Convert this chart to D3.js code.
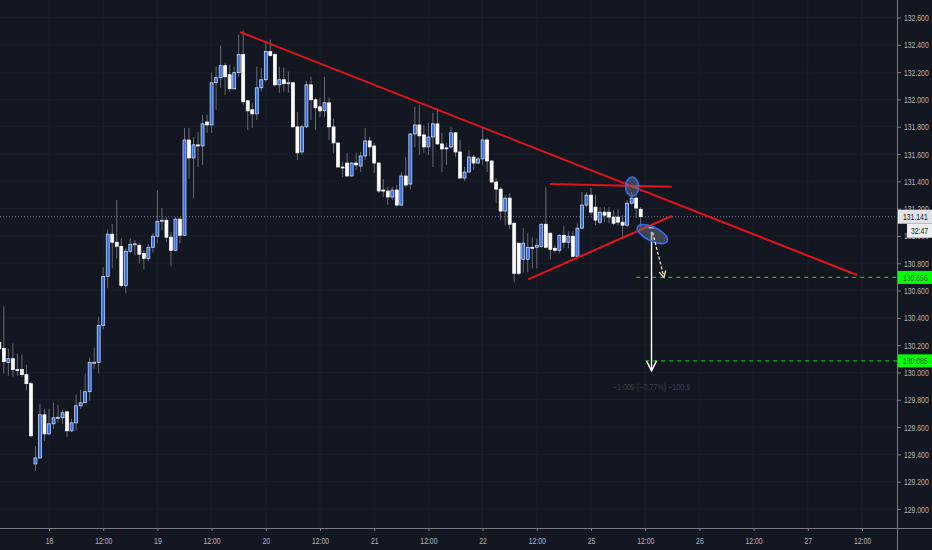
<!DOCTYPE html>
<head>
  <meta charset="utf-8">
  <style>
    body { margin: 0; background: #131722; }
    svg { background-color: #131722; display: block; }
    .axis text {
      font-family: "Liberation Sans", Arial, sans-serif;
      font-size: 9.5px;
      fill: #b2b5be;
    }
    .axis line { stroke: #787b86; }
    .tag { font-family: "Liberation Sans", Arial, sans-serif; font-size: 9.5px; }
  </style>
</head>
<body>
  <svg></svg>
  <script src="https://d3js.org/d3.v7.min.js"></script>
  <script>
  // hourly candles, first one is 11 bars before "18"
  const firstIndex = -11;
  const opens = [130.221,130.175,130.072,130.101,130.021,130.021,129.984,129.918,129.330,129.374,129.690,
    129.550,129.624,129.668,129.668,129.712,129.572,129.631,129.756,129.778,129.859,130.072,130.072,
    130.344,130.704,131.013,130.954,130.924,130.638,130.888,130.939,130.932,130.873,130.836,130.917,
    130.998,131.108,131.115,130.991,130.895,131.123,131.005,131.703,131.571,131.667,131.659,131.835,
    131.813,132.122,132.159,132.247,132.181,132.078,132.196,132.328,131.990,131.924,131.894,132.085,
    132.144,132.350,132.328,132.107,132.144,132.115,132.122,131.799,131.615,131.799,132.107,131.997,
    131.946,131.916,131.975,131.799,131.681,131.505,131.534,131.439,131.534,131.512,131.586,131.696,
    131.659,131.534,131.336,131.329,131.285,131.336,131.226,131.439,131.380,131.747,131.813,131.740,
    131.652,131.725,131.821,131.674,131.645,131.652,131.755,131.615,131.424,131.468,131.578,131.534,
    131.564,131.703,131.549,131.395,131.343,131.182,131.277,131.093,130.947,130.829,130.829,130.917,
    130.917,130.924,131.086,131.020,130.910,130.895,131.005,130.954,130.998,130.851,131.057,131.226,
    131.299,131.211,131.101,131.174,131.174,131.138,131.138,131.101,131.079,131.240,131.277,131.196];
  const highs = [130.322,130.484,130.175,130.212,130.138,130.131,130.057,129.932,129.462,129.771,129.734,
    129.734,129.778,129.763,129.727,129.720,129.661,129.837,129.874,129.991,130.109,130.182,130.410,
    130.770,131.049,131.086,131.262,130.983,130.910,130.983,130.968,130.946,130.895,130.939,131.020,
    131.336,131.204,131.137,131.027,131.137,131.137,131.791,131.791,131.725,131.762,131.887,131.887,
    132.196,132.240,132.394,132.269,132.254,132.240,132.475,132.504,131.997,131.975,132.240,132.232,
    132.431,132.438,132.343,132.240,132.232,132.203,132.129,131.909,131.813,132.137,132.166,132.012,
    132.012,132.166,132.012,131.858,131.688,131.542,131.608,131.542,131.608,131.615,131.791,131.725,
    131.681,131.542,131.417,131.358,131.358,131.373,131.468,131.578,131.755,131.946,131.960,131.813,
    131.828,131.902,131.931,131.755,131.681,131.799,131.762,131.703,131.505,131.630,131.593,131.578,
    131.791,131.718,131.556,131.424,131.358,131.299,131.314,131.100,130.954,131.057,131.020,130.990,
    130.983,131.093,131.358,131.027,130.932,131.013,131.071,131.035,131.035,131.093,131.321,131.321,
    131.351,131.299,131.211,131.211,131.211,131.189,131.196,131.152,131.262,131.321,131.299,131.211];
  const lows = [129.976,129.991,129.976,129.969,129.976,129.969,129.874,129.528,129.278,129.367,129.499,
    129.543,129.587,129.631,129.624,129.528,129.565,129.572,129.734,129.778,129.793,130.028,129.991,
    130.315,130.616,130.763,130.836,130.623,130.579,130.873,130.858,130.800,130.755,130.814,130.880,
    130.946,131.042,130.954,130.777,130.888,130.946,130.998,131.417,131.277,131.505,131.520,131.755,
    131.755,131.924,132.085,132.034,132.056,132.071,132.166,131.960,131.777,131.791,131.850,132.056,
    132.129,132.313,132.093,132.049,132.056,132.049,131.791,131.556,131.593,131.791,131.850,131.777,
    131.872,131.872,131.703,131.608,131.498,131.432,131.432,131.432,131.483,131.468,131.556,131.586,
    131.461,131.314,131.285,131.226,131.262,131.211,131.218,131.358,131.343,131.652,131.593,131.608,
    131.593,131.505,131.667,131.468,131.520,131.637,131.578,131.420,131.402,131.461,131.483,131.527,
    131.520,131.468,131.387,131.240,131.116,131.079,131.049,130.660,130.711,130.733,130.733,130.763,
    130.763,130.910,130.910,130.829,130.880,130.873,130.910,130.910,130.844,130.844,131.049,131.211,
    131.152,131.079,131.086,131.101,131.093,131.079,131.079,130.983,131.064,131.226,131.130,131.064];
  const closes = [130.173,130.079,130.101,130.021,130.018,129.984,129.918,129.536,129.374,129.690,129.550,
    129.624,129.668,129.672,129.705,129.572,129.631,129.756,129.778,129.859,130.072,130.075,130.344,
    130.704,131.013,130.954,130.924,130.638,130.888,130.939,130.942,130.866,130.836,130.917,130.998,
    131.108,131.115,130.991,130.895,131.123,131.005,131.703,131.571,131.667,131.659,131.821,131.813,
    132.122,132.159,132.247,132.166,132.078,132.196,132.328,131.983,131.916,131.894,132.085,132.144,
    132.350,132.321,132.107,132.144,132.115,132.122,131.799,131.608,131.799,132.107,131.997,131.938,
    131.916,131.975,131.799,131.681,131.505,131.498,131.439,131.534,131.520,131.586,131.696,131.652,
    131.534,131.329,131.329,131.285,131.336,131.226,131.439,131.373,131.747,131.813,131.733,131.652,
    131.725,131.821,131.674,131.637,131.641,131.755,131.615,131.424,131.468,131.578,131.534,131.564,
    131.703,131.549,131.395,131.343,131.182,131.277,131.086,130.726,130.726,130.947,130.917,130.913,
    130.932,131.086,130.917,130.902,130.895,131.005,130.954,130.998,130.851,131.057,131.226,131.299,
    131.174,131.116,131.174,131.152,131.138,131.093,131.101,131.079,131.240,131.277,131.204,131.141];

  const timeLabels = ["18","12:00","19","12:00","20","12:00","21","12:00","22","12:00","25","12:00","26","12:00","27","12:00"];
  const timeStep = 12;
  const priceTicks = [132.6,132.4,132.2,132.0,131.8,131.6,131.4,131.2,131.0,130.8,130.6,130.4,130.2,130.0,129.8,129.6,129.4,129.2,129.0];
  const lastPrice = 131.141;
  const countdown = "32:47";
  const targets = [{price: 130.696, from: 130}, {price: 130.085, from: 132}];

  // drawings, points as [bar index, price]
  const trendLines = [
    [[42.3, 132.494], [178.9, 130.714]],
    [[110.9, 131.380], [137.9, 131.361]],
    [[106.1, 130.682], [137.9, 131.146]]
  ];
  const markers = [
    {i: 129.1, p: 131.361, rx: 6.5, ry: 9.5, rot: 0},
    {i: 133.6, p: 131.014, rx: 16.5, ry: 7, rot: 26}
  ];
  const measure = {i: 133.4, from: 131.03, to: 130.085, label: "\u22121.009 (\u22120.77%) \u2212100.9"};
  const projection = [[133.65, 131.026], [136.15, 130.697]];

  const width = 932, height = 550;
  const plotRight = 897, plotBottom = 528;
  const tickIdx = timeLabels.map((t, k) => k * timeStep);

  const svg = d3.select('svg').attr('width', width).attr('height', height);

  const x = d3.scaleLinear().domain([0, 180]).range([49, 862]);
  const y = d3.scaleLinear().domain([129, 132.6]).range([509, 17.5]);

  // squeeze text horizontally, the chart font is a narrow one
  function condense(sel, f) {
    sel.each(function() {
      const t = d3.select(this);
      const tx = +t.attr('x') || 0;
      t.attr('x', 0).attr('transform', `translate(${tx},0) scale(${f},1)`);
    });
  }

  svg.append('defs').append('clipPath').attr('id', 'plot')
    .append('rect').attr('width', plotRight).attr('height', plotBottom);

  // grid
  const grid = svg.append('g').attr('clip-path', 'url(#plot)');
  grid.selectAll('.vg').data(tickIdx).enter().append('line')
    .attr('x1', d => x(d)).attr('x2', d => x(d)).attr('y1', 0).attr('y2', plotBottom)
    .attr('stroke', '#1a1e2a').attr('stroke-width', 1);
  grid.selectAll('.hg').data(priceTicks).enter().append('line')
    .attr('x1', 0).attr('x2', plotRight).attr('y1', d => y(d)).attr('y2', d => y(d))
    .attr('stroke', '#1a1e2a').attr('stroke-width', 1);

  // last price line
  grid.append('line')
    .attr('x1', 0).attr('x2', plotRight).attr('y1', y(lastPrice)).attr('y2', y(lastPrice))
    .attr('stroke', '#6f7380').attr('stroke-width', 1).attr('stroke-dasharray', '1,2');

  // candles
  const bars = opens.map((o, k) => ({i: firstIndex + k, o: o, h: highs[k], l: lows[k], c: closes[k]}));
  const chart = svg.append('g').attr('clip-path', 'url(#plot)');
  chart.selectAll('.wick').data(bars).enter().append('line')
    .attr('x1', d => x(d.i)).attr('x2', d => x(d.i))
    .attr('y1', d => y(d.h)).attr('y2', d => y(d.l))
    .attr('stroke', '#666a75').attr('stroke-width', 1);
  chart.selectAll('.body').data(bars).enter().append('rect')
    .attr('x', d => x(d.i) - 1.5)
    .attr('width', 3)
    .attr('y', d => y(Math.max(d.o, d.c)))
    .attr('height', d => Math.max(1, Math.abs(y(d.o) - y(d.c))))
    .attr('fill', d => d.c >= d.o ? '#2f6fee' : '#ffffff')
    .attr('stroke', d => d.c >= d.o ? '#dfe2ea' : '#ffffff')
    .attr('stroke-width', 0.7);

  // target lines
  chart.selectAll('.target').data(targets).enter().append('line')
    .attr('x1', d => x(d.from)).attr('x2', plotRight)
    .attr('y1', d => y(d.price)).attr('y2', d => y(d.price))
    .attr('stroke', '#16b816').attr('stroke-width', 1.3).attr('stroke-dasharray', '4,4');

  // trend lines
  const line = d3.line().x(d => x(d[0])).y(d => y(d[1]));
  chart.selectAll('.trend').data(trendLines).enter().append('path')
    .attr('d', line).attr('fill', 'none')
    .attr('stroke', '#e3131c').attr('stroke-width', 2);

  // measure arrow
  const mx = x(measure.i);
  chart.append('line')
    .attr('x1', mx).attr('x2', mx).attr('y1', y(measure.from)).attr('y2', y(measure.to) + 10)
    .attr('stroke', '#ffffff').attr('stroke-width', 1.4);
  chart.append('path')
    .attr('d', `M${mx - 5},${y(measure.to)} L${mx},${y(measure.to) + 10} L${mx + 5},${y(measure.to)}`)
    .attr('fill', 'none').attr('stroke', '#ffffff').attr('stroke-width', 1.4);
  chart.append('path')
    .attr('d', `M${mx - 3},${y(measure.from) - 4} L${mx + 3},${y(measure.from) - 4}`)
    .attr('stroke', '#ffffff').attr('stroke-width', 1.2);
  chart.append('text')
    .attr('x', mx).attr('y', y(measure.to) + 29)
    .attr('text-anchor', 'middle')
    .attr('font-family', '"Liberation Sans", Arial, sans-serif')
    .attr('font-size', '9px').attr('fill', '#3a3f4d')
    .text(measure.label)
    .call(condense, 0.8);

  // markers
  chart.selectAll('.marker').data(markers).enter().append('ellipse')
    .attr('transform', d => `translate(${x(d.i)},${y(d.p)}) rotate(${d.rot})`)
    .attr('rx', d => d.rx).attr('ry', d => d.ry)
    .attr('fill', 'rgba(120,125,140,0.45)')
    .attr('stroke', '#2f6ff5').attr('stroke-width', 1.6);

  // projected move
  const p0 = [x(projection[0][0]), y(projection[0][1])];
  const p1 = [x(projection[1][0]), y(projection[1][1])];
  chart.append('line')
    .attr('x1', p0[0]).attr('y1', p0[1]).attr('x2', p1[0]).attr('y2', p1[1])
    .attr('stroke', '#f2dfb4').attr('stroke-width', 1.3).attr('stroke-dasharray', '3,2');
  const ang = Math.atan2(p1[1] - p0[1], p1[0] - p0[0]);
  const head = [-0.5, 0.5].map(a => [p1[0] - 7 * Math.cos(ang + a), p1[1] - 7 * Math.sin(ang + a)]);
  chart.append('path')
    .attr('d', `M${head[0][0]},${head[0][1]} L${p1[0]},${p1[1]} L${head[1][0]},${head[1][1]}`)
    .attr('fill', 'none').attr('stroke', '#f2dfb4').attr('stroke-width', 1.3);

  // axes
  const yAxis = d3.axisRight(y).tickValues(priceTicks).tickSize(4).tickPadding(3).tickFormat(d3.format('.3f'));
  svg.append('g').attr('class', 'axis').attr('transform', `translate(${plotRight},0)`).call(yAxis)
    .call(g => g.select('.domain').remove())
    .call(g => g.selectAll('text').call(condense, 0.72));
  const xAxis = d3.axisBottom(x).tickValues(tickIdx).tickSize(3).tickPadding(6)
    .tickFormat((d, k) => timeLabels[k]);
  svg.append('g').attr('class', 'axis').attr('transform', `translate(0,${plotBottom})`).call(xAxis)
    .call(g => g.select('.domain').remove())
    .call(g => g.selectAll('text').call(condense, 0.72));

  svg.append('line').attr('x1', 0).attr('x2', width).attr('y1', plotBottom + 0.5).attr('y2', plotBottom + 0.5)
    .attr('stroke', '#787b86');
  svg.append('line').attr('x1', plotRight + 0.5).attr('x2', plotRight + 0.5).attr('y1', 0).attr('y2', height)
    .attr('stroke', '#787b86');

  // price tags
  const tags = svg.append('g').attr('class', 'tag');
  targets.forEach(t => {
    tags.append('rect').attr('x', plotRight + 1).attr('y', y(t.price) - 6.5).attr('width', width - plotRight).attr('height', 13)
      .attr('fill', '#00ff00');
    tags.append('text').attr('x', plotRight + 6).attr('y', y(t.price) + 3.5).attr('fill', '#1b5e20')
      .text(d3.format('.3f')(t.price)).call(condense, 0.72);
  });
  tags.append('rect').attr('x', plotRight + 1).attr('y', y(lastPrice) - 7).attr('width', width - plotRight).attr('height', 14)
    .attr('fill', '#e1e3e8');
  tags.append('text').attr('x', plotRight + 6).attr('y', y(lastPrice) + 3.5).attr('fill', '#131722')
    .text(d3.format('.3f')(lastPrice)).call(condense, 0.72);
  tags.append('rect').attr('x', plotRight + 10).attr('y', y(lastPrice) + 7).attr('width', width - plotRight - 10).attr('height', 14)
    .attr('fill', '#eceef2');
  tags.append('text').attr('x', plotRight + 14).attr('y', y(lastPrice) + 17.5).attr('fill', '#131722')
    .text(countdown).call(condense, 0.72);
  </script>
</body>
